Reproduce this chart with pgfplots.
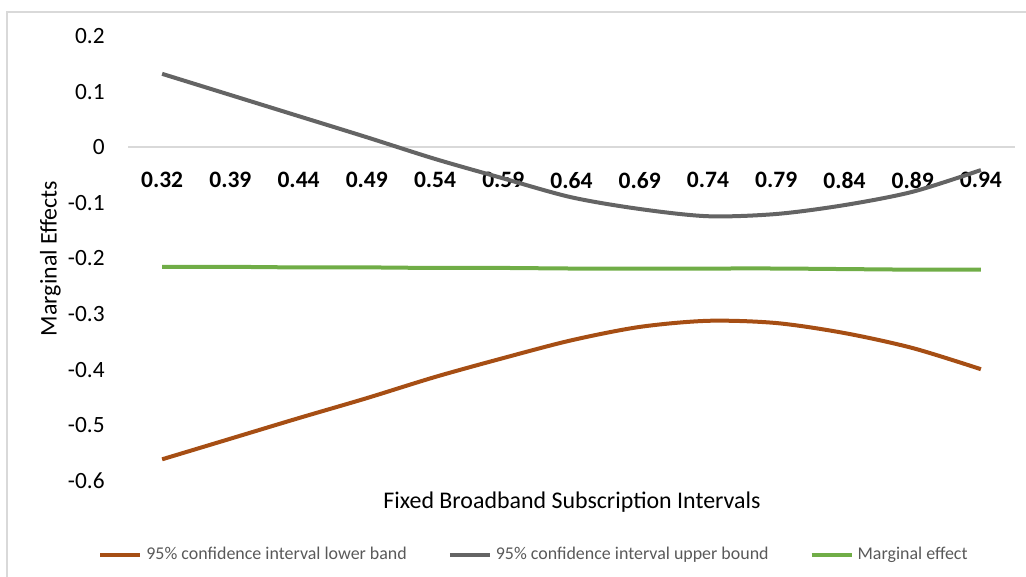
\documentclass[border=0pt]{standalone}
\usepackage{fontspec}
\setmainfont{Carlito}
\usepackage{pgfplots}
\pgfplotsset{compat=1.18}
\definecolor{lowc}{RGB}{166,78,20}
\definecolor{upc}{RGB}{100,100,100}
\definecolor{mec}{RGB}{112,173,71}
\definecolor{framec}{RGB}{217,217,217}
\definecolor{legtext}{RGB}{89,89,89}
\begin{document}
\begin{tikzpicture}
\draw[framec, line width=1bp] (-60.5bp,-70bp) -- (-60.5bp,234.5bp) -- (470bp,234.5bp);
\begin{axis}[
  at={(0,0)}, anchor=south west, scale only axis,
  width=443.5bp, height=222.5bp,
  xmin=-0.5, xmax=12.5, ymin=-0.6, ymax=0.2,
  axis x line=middle, axis y line=left,
  x axis line style={-, draw=framec, line width=1bp},
  y axis line style={draw=none},
  hide obscured x ticks=false, hide obscured y ticks=false,
  xtick={0,...,12},
  xticklabels={0.32,0.39,0.44,0.49,0.54,0.59,0.64,0.69,0.74,0.79,0.84,0.89,0.94},
  ytick={-0.6,-0.5,-0.4,-0.3,-0.2,-0.1,0,0.1,0.2},
  yticklabels={-0.6,-0.5,-0.4,-0.3,-0.2,-0.1,0,0.1,0.2},
  major tick length=0pt,
  xticklabel style={font=\fontsize{11.8}{14}\selectfont\bfseries, anchor=north, inner sep=0pt, yshift=-12.2bp},
  yticklabel style={font=\fontsize{11.7}{14}\selectfont, anchor=east, inner sep=0pt, xshift=-11.5bp},
  clip=false,
  legend columns=3,
  legend cell align=left,
  legend style={at={(axis description cs:-0.0338,-0.1663)}, anchor=west, draw=none, fill=none,
    inner sep=0pt, font=\fontsize{9}{11}\selectfont, text=legtext,
    /tikz/every even column/.append style={column sep=18.5bp},
    /tikz/every odd column/.append style={column sep=0bp}},
  legend image code/.code={\draw[#1, line width=2bp] (0bp,0bp) -- (20bp,0bp);},
]
\addplot[lowc, line width=2bp, smooth, tension=0.5] coordinates {
(0,-0.561) (1,-0.524) (2,-0.487) (3,-0.451) (4,-0.413) (5,-0.379) (6,-0.347)
(7,-0.323) (8,-0.312) (9,-0.316) (10,-0.334) (11,-0.361) (12,-0.399)};
\addlegendentry{95\% confidence interval lower band}
\addplot[upc, line width=2bp, smooth, tension=0.5] coordinates {
(0,0.132) (1,0.094) (2,0.056) (3,0.018) (4,-0.021) (5,-0.056) (6,-0.090)
(7,-0.111) (8,-0.124) (9,-0.120) (10,-0.104) (11,-0.080) (12,-0.041)};
\addlegendentry{95\% confidence interval upper bound}
\addplot[mec, line width=2bp, smooth, tension=0.5] coordinates {
(0,-0.215) (1,-0.215) (2,-0.216) (3,-0.216) (4,-0.217) (5,-0.217) (6,-0.218)
(7,-0.218) (8,-0.218) (9,-0.218) (10,-0.219) (11,-0.220) (12,-0.220)};
\addlegendentry{Marginal effect}
\end{axis}
\node[rotate=90, anchor=base, font=\fontsize{12}{14}\selectfont] at (-35.65bp,111.25bp) {Marginal Effects};
\node[anchor=base, font=\fontsize{12}{14}\selectfont] at (222bp,-13.65bp) {Fixed Broadband Subscription Intervals};
\pgfresetboundingbox
\useasboundingbox (-64bp,-48bp) rectangle (449bp,240.5bp);
\end{tikzpicture}
\end{document}
